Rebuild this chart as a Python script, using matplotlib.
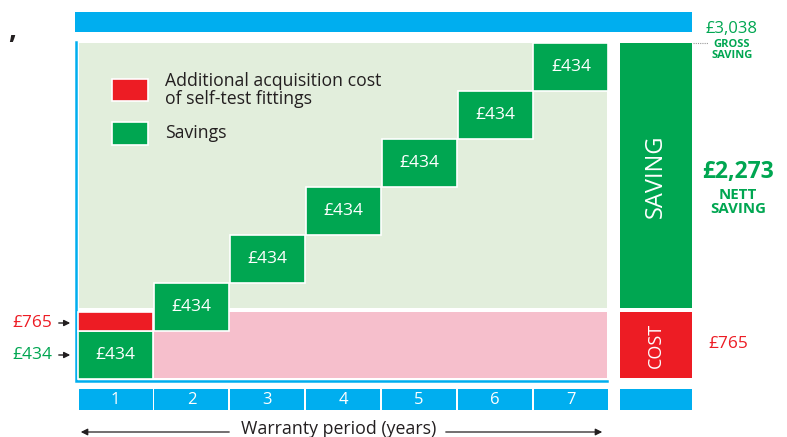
import matplotlib.pyplot as plt
import numpy as np

# data
years = [1, 2, 3, 4, 5, 6, 7]
annual_saving = [434, 434, 434, 434, 434, 434, 434]
extra_cost = 765
gross_saving = 3038
nett_saving = 2273
year_labels = ['1', '2', '3', '4', '5', '6', '7']

GREEN = '#00a651'
RED = '#ed1c24'
BLUE = '#00aeef'
LIGHT_GREEN = '#e2eedc'
PINK = '#f6bfcc'
DARK = '#231f20'

plt.rcParams['font.family'] = ['Open Sans', 'DejaVu Sans']

# pixel layout -> data units (years on x, pounds on y)
X0, PX_YEAR = 115.5, 75.9
Y0, PX_POUND = 379.0, 48.0 / 434


def px(x, y):
    return 1 + (x - X0) / PX_YEAR, (Y0 - y) / PX_POUND


def pxw(w):
    return w / PX_YEAR


cum = np.cumsum(annual_saving)
bottoms = cum - np.array(annual_saving)
cost_top = px(0, 312)[1]      # schematic height of the cost band (not to scale)
green_bottom = px(0, 308)[1]
right_col = px(656, 0)[0]

fig = plt.figure(figsize=(7.87, 4.37), dpi=100)
ax = fig.add_axes([0, 0, 1, 1])
ax.set_xlim(px(0, 0)[0], px(787, 0)[0])
ax.set_ylim(px(0, 437)[1], px(0, 0)[1])
ax.axis('off')

# backgrounds
x_left = px(79, 0)[0]
x_right = px(607, 0)[0]
ax.fill_between([x_left, x_right], green_bottom, gross_saving, color=LIGHT_GREEN, lw=0, zorder=1)
ax.fill_between([px(154, 0)[0], x_right], px(0, 378)[1], cost_top, color=PINK, lw=0, zorder=1)

# frame
fx = px(76.3, 0)[0]
fb = px(0, 381)[1]
ax.plot([fx, fx, x_right], [px(0, 42)[1], fb, fb], color=BLUE, lw=1.8, zorder=2,
        solid_joinstyle='miter')

# top bar
tl, tt = px(75, 12)
tr, tb = px(692, 32)
ax.bar((tl + tr) / 2, tt - tb, bottom=tb, width=tr - tl, color=BLUE, zorder=2)

# savings steps
ax.bar(years, annual_saving, bottom=bottoms, width=pxw(75), color=GREEN,
       edgecolor='white', lw=1.2, zorder=3)
for x, b, v in zip(years, bottoms, annual_saving):
    ax.text(x, b + v / 2, f'£{v}', color='white', fontsize=12.5, ha='center', va='center', zorder=4)

# extra cost in year 1
ax.bar(years[0], cost_top - cum[0], bottom=cum[0], width=pxw(75), color=RED,
       edgecolor='white', lw=1.2, zorder=3)

# right summary column
ax.bar(right_col, gross_saving - green_bottom, bottom=green_bottom, width=pxw(72),
       color=GREEN, zorder=3)
ax.bar(right_col, cost_top - px(0, 378)[1], bottom=px(0, 378)[1], width=pxw(72),
       color=RED, zorder=3)
ax.text(right_col, px(0, 176)[1], 'SAVING', color='white', fontsize=17, rotation=90,
        ha='center', va='center', zorder=4)
ax.text(right_col, px(0, 345)[1], 'COST', color='white', fontsize=13, rotation=90,
        ha='center', va='center', zorder=4)

# year boxes
yb_top = px(0, 389)[1]
yb_bot = px(0, 410)[1]
ax.bar(years, yb_top - yb_bot, bottom=yb_bot, width=pxw(74), color=BLUE, zorder=2)
ax.bar(right_col, yb_top - yb_bot, bottom=yb_bot, width=pxw(72), color=BLUE, zorder=2)
for x, lab in zip(years, year_labels):
    ax.text(x, (yb_top + yb_bot) / 2, lab, color='white', fontsize=12, ha='center', va='center')

# right hand labels
ax.text(*px(732, 29), f'£{gross_saving:,}', color=GREEN, fontsize=12, ha='center', va='center')
ax.text(*px(732, 50), 'GROSS\nSAVING', color=GREEN, fontsize=8, fontweight='bold',
        ha='center', va='center', linespacing=1.0)
ax.plot([px(693, 0)[0], px(708, 0)[0]], [gross_saving, gross_saving], color='#999999',
        lw=0.8, ls=(0, (1, 1)))
ax.text(*px(738, 172), f'£{nett_saving:,}', color=GREEN, fontsize=16.5, fontweight='bold',
        ha='center', va='center')
ax.text(*px(738, 202), 'NETT\nSAVING', color=GREEN, fontsize=10.8, fontweight='bold',
        ha='center', va='center', linespacing=1.0)
ax.text(*px(728, 344), f'£{extra_cost}', color=RED, fontsize=12.5, ha='center', va='center')

# left hand labels
ax.text(*px(52, 323), f'£{extra_cost}', color=RED, fontsize=12.5, ha='right', va='center')
ax.text(*px(52, 355), f'£{annual_saving[0]}', color=GREEN, fontsize=12.5, ha='right', va='center')
for yy in (323, 355):
    ax.annotate('', xy=px(73, yy), xytext=px(56, yy),
                arrowprops=dict(arrowstyle='-|>', color=DARK, lw=1, mutation_scale=9))

# legend
for (top, bot), col in zip([(79, 101), (122, 145)], [RED, GREEN]):
    l, t = px(112, top)
    r, b = px(148, bot)
    ax.bar((l + r) / 2, t - b, bottom=b, width=r - l, color=col, edgecolor='white', lw=1.2, zorder=3)
ax.text(*px(165, 90), 'Additional acquisition cost\nof self-test fittings', color=DARK,
        fontsize=12.7, ha='left', va='center', linespacing=1.05)
ax.text(*px(165, 133), 'Savings', color=DARK, fontsize=12.7, ha='left', va='center')

# axis caption
ax.text(*px(339, 429), 'Warranty period (years)', color=DARK, fontsize=12.8, ha='center', va='center')
ax.annotate('', xy=px(78, 432), xytext=px(232, 432),
            arrowprops=dict(arrowstyle='-|>', color=DARK, lw=0.9, mutation_scale=10))
ax.annotate('', xy=px(605, 432), xytext=px(443, 432),
            arrowprops=dict(arrowstyle='-|>', color=DARK, lw=0.9, mutation_scale=10))

ax.text(*px(12, 30), ',', color=DARK, fontsize=20, fontweight='bold', ha='center', va='center')

fig.savefig('out.png', dpi=100)
